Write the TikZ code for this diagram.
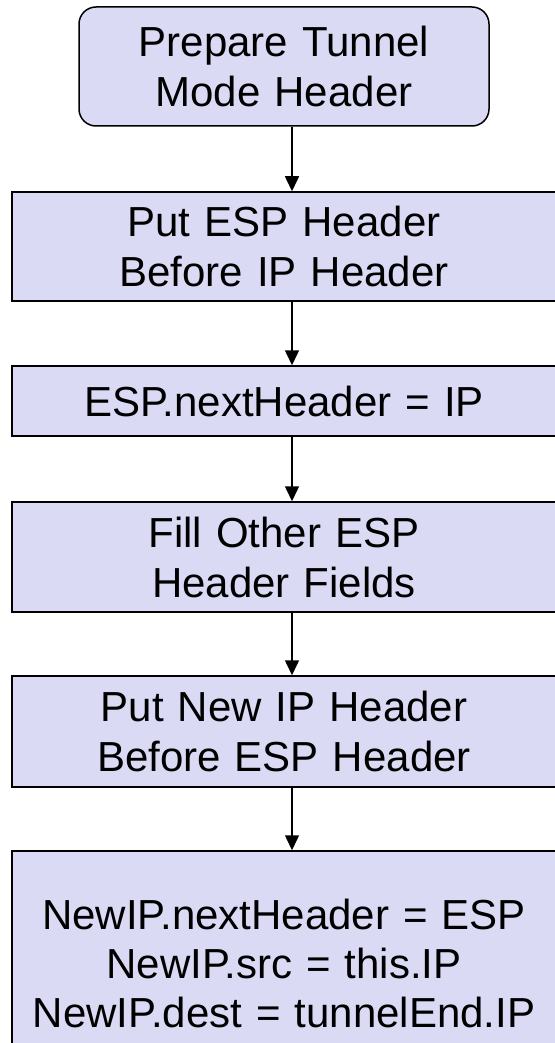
\documentclass[tikz,border=0pt]{standalone}
\usepackage{fontspec}
\setmainfont{Liberation Sans}
\usetikzlibrary{arrows.meta}
\definecolor{stepfill}{RGB}{218,218,244}

\begin{document}
\begin{tikzpicture}[x=1pt,y=1pt]
    \tikzstyle{Step} = [
            draw=black,
            fill=stepfill,
            line width=1.5pt,
            rectangle,
            inner sep=0pt,
            minimum width=544pt,
            text width=530pt,
            align=center,
            font={\fontsize{42}{50}\selectfont}
    ];
    \tikzstyle{StartStep} = [
            Step,
            rounded corners=17pt,
            minimum width=410pt,
            text width=400pt
    ];
    \tikzstyle{Edge} = [
            draw=black,
            line width=1.5pt,
            -{Triangle[width=14pt,length=15pt]}
    ];

    \useasboundingbox (0,0) rectangle (554,-1043);

    \node[StartStep, name=Prepare,  minimum height=119pt] at (284,-66.5) {Prepare Tunnel\\Mode Header};
    \node[Step,      name=PutESP,   minimum height=109pt] at (284,-246.5) {Put ESP Header\\Before IP Header};
    \node[Step,      name=NextHdr,  minimum height=70pt]  at (284,-401) {ESP.nextHeader = IP};
    \node[Step,      name=FillESP,  minimum height=110pt] at (284,-557) {Fill Other ESP\\Header Fields};
    \node[Step,      name=PutNewIP, minimum height=111pt] at (284,-731.5) {Put New IP Header\\Before ESP Header};
    \node[Step,      name=SetNewIP, minimum height=224pt,
          font={\fontsize{42}{49}\selectfont}] at (284,-963) {NewIP.nextHeader = ESP\\NewIP.src = this.IP\\NewIP.dest = tunnelEnd.IP};

    \draw[Edge] ([xshift=8pt]Prepare.south)  -- ([xshift=8pt]PutESP.north);
    \draw[Edge] ([xshift=8pt]PutESP.south)   -- ([xshift=8pt]NextHdr.north);
    \draw[Edge] ([xshift=8pt]NextHdr.south)  -- ([xshift=8pt]FillESP.north);
    \draw[Edge] ([xshift=8pt]FillESP.south)  -- ([xshift=8pt]PutNewIP.north);
    \draw[Edge] ([xshift=8pt]PutNewIP.south) -- ([xshift=8pt]SetNewIP.north);
\end{tikzpicture}
\end{document}
